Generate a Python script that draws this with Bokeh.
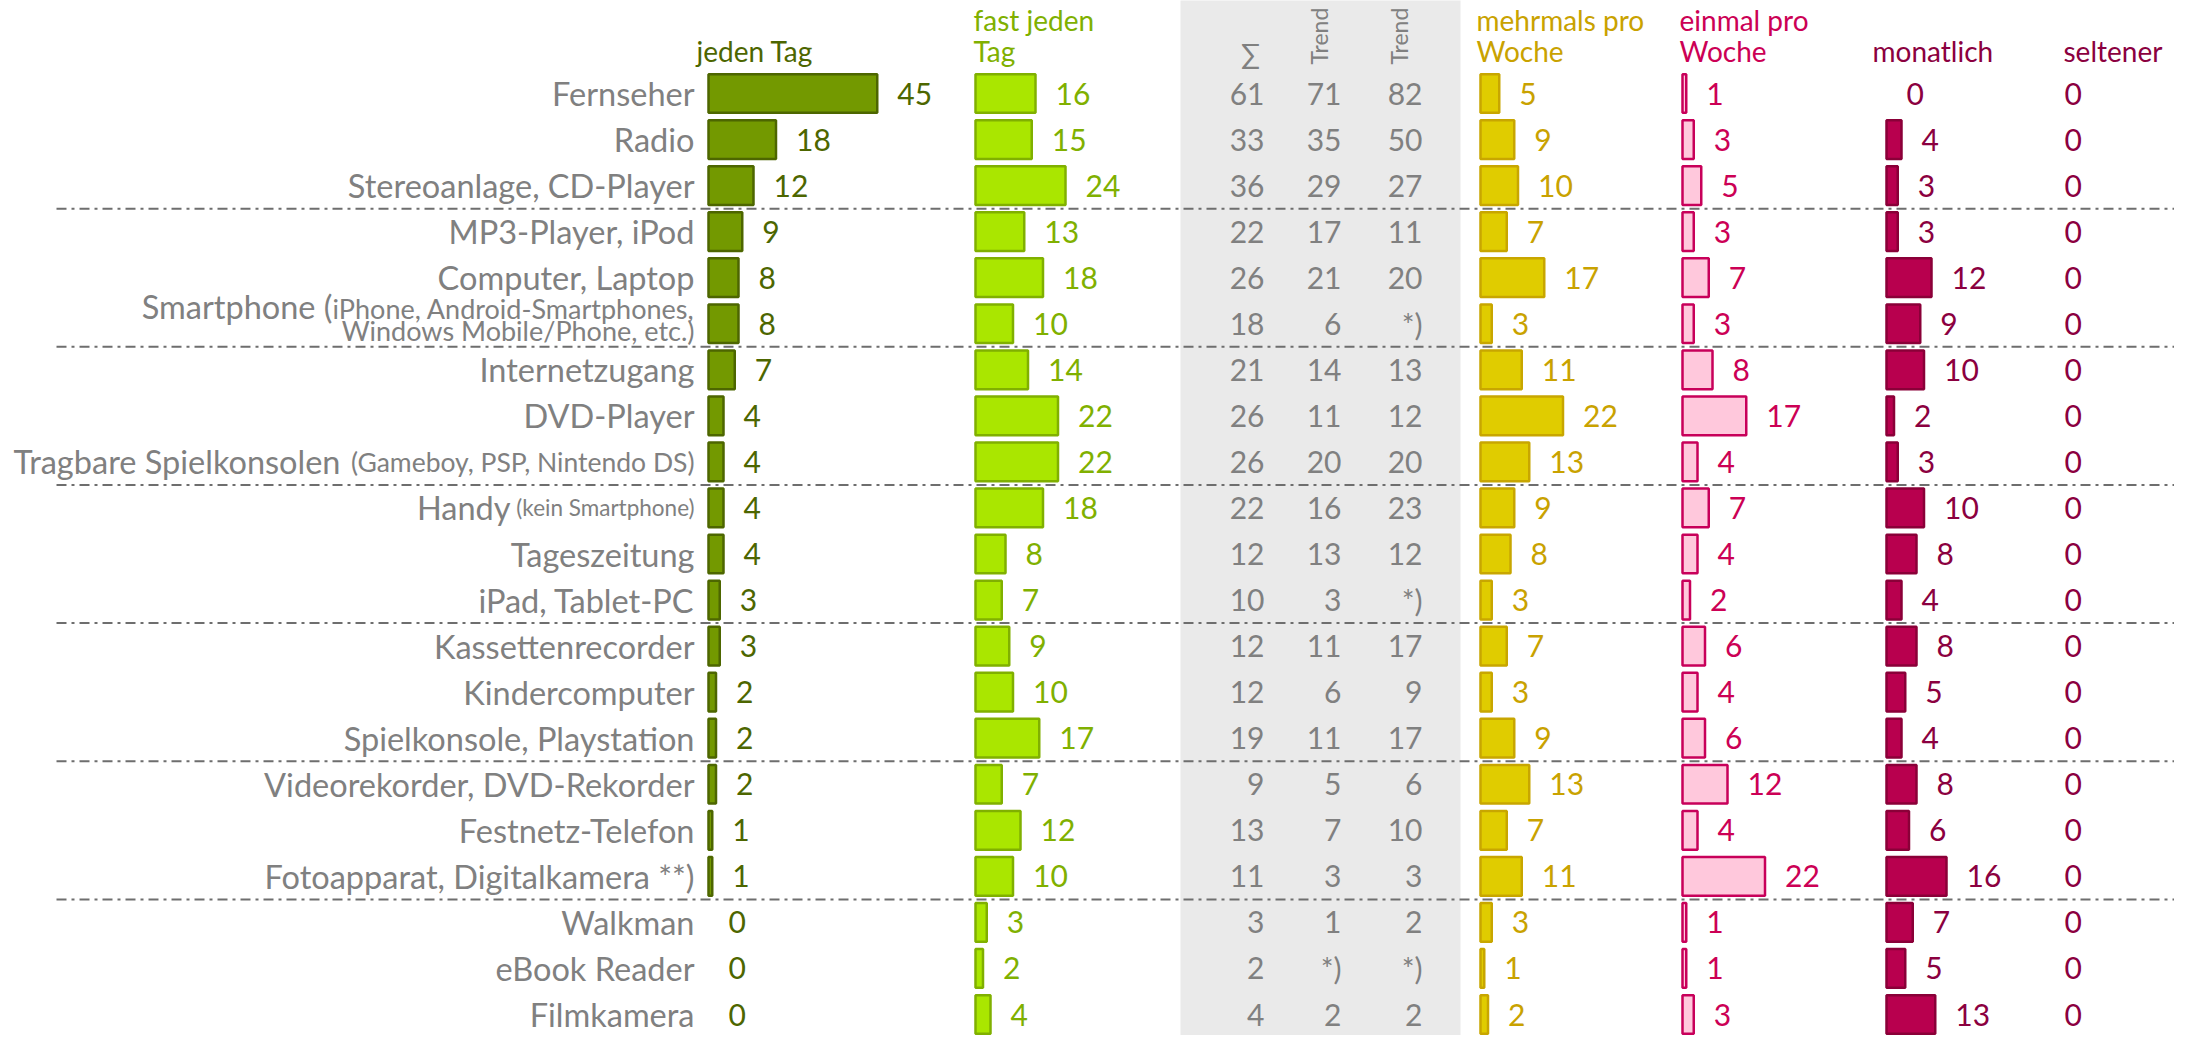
from bokeh.plotting import figure
from bokeh.models import Range1d
from bokeh.embed import file_html
from bokeh.resources import INLINE
from bokeh.core.properties import value
import math

# ---------------- data ----------------
labels = ["Fernseher", "Radio", "Stereoanlage, CD-Player", "MP3-Player, iPod",
          "Computer, Laptop", "Smartphone (", "Internetzugang", "DVD-Player",
          "Tragbare Spielkonsolen", "Handy", "Tageszeitung", "iPad, Tablet-PC",
          "Kassettenrecorder", "Kindercomputer", "Spielkonsole, Playstation",
          "Videorekorder, DVD-Rekorder", "Festnetz-Telefon",
          "Fotoapparat, Digitalkamera **)", "Walkman", "eBook Reader", "Filmkamera"]
label_notes = {5: ["iPhone, Android-Smartphones,", "Windows Mobile/Phone, etc.)"],
               8: ["(Gameboy, PSP, Nintendo DS)"],
               9: ["(kein Smartphone)"]}

jeden_tag = [45, 18, 12, 9, 8, 8, 7, 4, 4, 4, 4, 3, 3, 2, 2, 2, 1, 1, 0, 0, 0]
fast_jeden_tag = [16, 15, 24, 13, 18, 10, 14, 22, 22, 18, 8, 7, 9, 10, 17, 7, 12, 10, 3, 2, 4]
summe = ["61", "33", "36", "22", "26", "18", "21", "26", "26", "22", "12", "10",
         "12", "12", "19", "9", "13", "11", "3", "2", "4"]
trend_a = ["71", "35", "29", "17", "21", "6", "14", "11", "20", "16", "13", "3",
           "11", "6", "11", "5", "7", "3", "1", "*)", "2"]
trend_b = ["82", "50", "27", "11", "20", "*)", "13", "12", "20", "23", "12", "*)",
           "17", "9", "17", "6", "10", "3", "2", "*)", "2"]
mehrmals = [5, 9, 10, 7, 17, 3, 11, 22, 13, 9, 8, 3, 7, 3, 9, 13, 7, 11, 3, 1, 2]
einmal = [1, 3, 5, 3, 7, 3, 8, 17, 4, 7, 4, 2, 6, 4, 6, 12, 4, 22, 1, 1, 3]
monatlich = [0, 4, 3, 3, 12, 9, 10, 2, 3, 10, 8, 4, 8, 5, 4, 8, 6, 16, 7, 5, 13]
seltener = [0, 0, 0, 0, 0, 0, 0, 0, 0, 0, 0, 0, 0, 0, 0, 0, 0, 0, 0, 0, 0]
group_breaks = [2.5, 5.5, 8.5, 11.5, 14.5, 17.5]

# ---------------- layout ----------------
U = 3.75            # px per percent
ROW0, ROWH = 93.0, 46.05


def X(px):
    return px / U


def Y(py):
    return (py - ROW0) / ROWH


FONT = value("Lato")
GRAY = "#808080"
rows = list(range(len(labels)))

p = figure(width=2174, height=1035,
           x_range=Range1d(X(0), X(2174)), y_range=Range1d(Y(1035), Y(0)),
           output_backend="svg", toolbar_location=None,
           x_axis_location=None, y_axis_location=None, min_border=0)
p.grid.visible = False
p.outline_line_color = None

# grey panel behind sum / trend columns
p.quad(left=[X(1180)], right=[X(1460)], bottom=[Y(1060)], top=[Y(-20)],
       fill_color="#eaeaea", line_color=None)

# group separators
p.segment(x0=[X(56)] * len(group_breaks), x1=[X(2190)] * len(group_breaks),
          y0=group_breaks, y1=group_breaks, line_color="#6e6e6e",
          line_width=2, line_dash="10 5 3 5")

# bar columns
cols = [
    (jeden_tag, 708, "#739900", "#4d6600", "#4d6600"),
    (fast_jeden_tag, 975, "#aae600", "#80b000", "#80b000"),
    (mehrmals, 1480, "#e0cc00", "#c8a600", "#c9a200"),
    (einmal, 1682, "#ffc8dc", "#c8005a", "#cc0055"),
    (monatlich, 1886, "#b8004e", "#8a0038", "#8b0040"),
]
GAP = 20 / U
for vals, start, fill, line, tcol in cols:
    s = X(start)
    ys = [r for r, v in zip(rows, vals) if v > 0]
    vs = [v for v in vals if v > 0]
    p.hbar(y=ys, left=[s] * len(vs), right=[s + v for v in vs], height=0.84,
           fill_color=fill, line_color=line, line_width=2.5)
    p.text(x=[s + v + GAP for v in vals], y=rows, text=[str(v) for v in vals],
           text_font=FONT, text_font_size="30px", text_color=tcol,
           text_align="left", text_baseline="middle")

p.text(x=[X(2064)] * len(seltener), y=rows, text=[str(v) for v in seltener],
       text_font=FONT, text_font_size="30px", text_color="#8b0040",
       text_align="left", text_baseline="middle")

# grey panel numbers
for vals, right in [(summe, 1264), (trend_a, 1341), (trend_b, 1422)]:
    p.text(x=[X(right)] * len(vals), y=rows, text=vals, text_font=FONT,
           text_font_size="30px", text_color=GRAY, text_align="right",
           text_baseline="middle")

# row labels
LABEL_RIGHT = 694
LS = "32.5px"
main_right = {5: 332, 8: 340, 9: 510}
main_x, main_y, main_t = [], [], []
for r, lab in enumerate(labels):
    if r == 5:
        continue
    main_x.append(X(main_right.get(r, LABEL_RIGHT)))
    main_y.append(r)
    main_t.append(lab)
p.text(x=main_x, y=main_y, text=main_t, text_font=FONT, text_font_size=LS,
       text_color=GRAY, text_align="right", text_baseline="middle")

# smartphone label (raised, with two-line note)
p.text(x=[X(main_right[5])], y=[Y(306)], text=[labels[5]], text_font=FONT,
       text_font_size=LS, text_color=GRAY, text_align="right",
       text_baseline="alphabetic")
p.text(x=[X(LABEL_RIGHT)] * 2, y=[Y(308), Y(330)], text=label_notes[5],
       text_font=FONT, text_font_size="27px", text_color=GRAY,
       text_align="right", text_baseline="alphabetic")
p.text(x=[X(LABEL_RIGHT)], y=[8], text=label_notes[8], text_font=FONT,
       text_font_size="26.5px", text_color=GRAY, text_align="right",
       text_baseline="middle")
p.text(x=[X(LABEL_RIGHT)], y=[9], text=label_notes[9], text_font=FONT,
       text_font_size="22.5px", text_color=GRAY, text_align="right",
       text_baseline="middle")

# column headers
HS = "28px"
headers = [
    ("jeden Tag", 696, 50, "#4d6600"),
    ("fast jeden", 973, 19, "#80b000"),
    ("Tag", 973, 50, "#80b000"),
    ("mehrmals pro", 1476, 19, "#c9a200"),
    ("Woche", 1476, 50, "#c9a200"),
    ("einmal pro", 1679, 19, "#cc0055"),
    ("Woche", 1679, 50, "#cc0055"),
    ("monatlich", 1872, 50, "#8b0040"),
    ("seltener", 2063, 50, "#8b0040"),
]
for t, hx, hy, c in headers:
    p.text(x=[X(hx)], y=[Y(hy)], text=[t], text_font=FONT, text_font_size=HS,
           text_color=c, text_align="left", text_baseline="alphabetic")

p.text(x=[X(1250)], y=[Y(52)], text=["∑"], text_font=FONT, text_font_size=HS,
       text_color=GRAY, text_align="center", text_baseline="alphabetic")
p.text(x=[X(1318), X(1398)], y=[Y(64), Y(64)], text=["Trend", "Trend"],
       angle=math.pi / 2, text_font=FONT, text_font_size="23px",
       text_color=GRAY, text_align="left", text_baseline="middle")

open("out.html", "w").write(file_html(p, INLINE))
